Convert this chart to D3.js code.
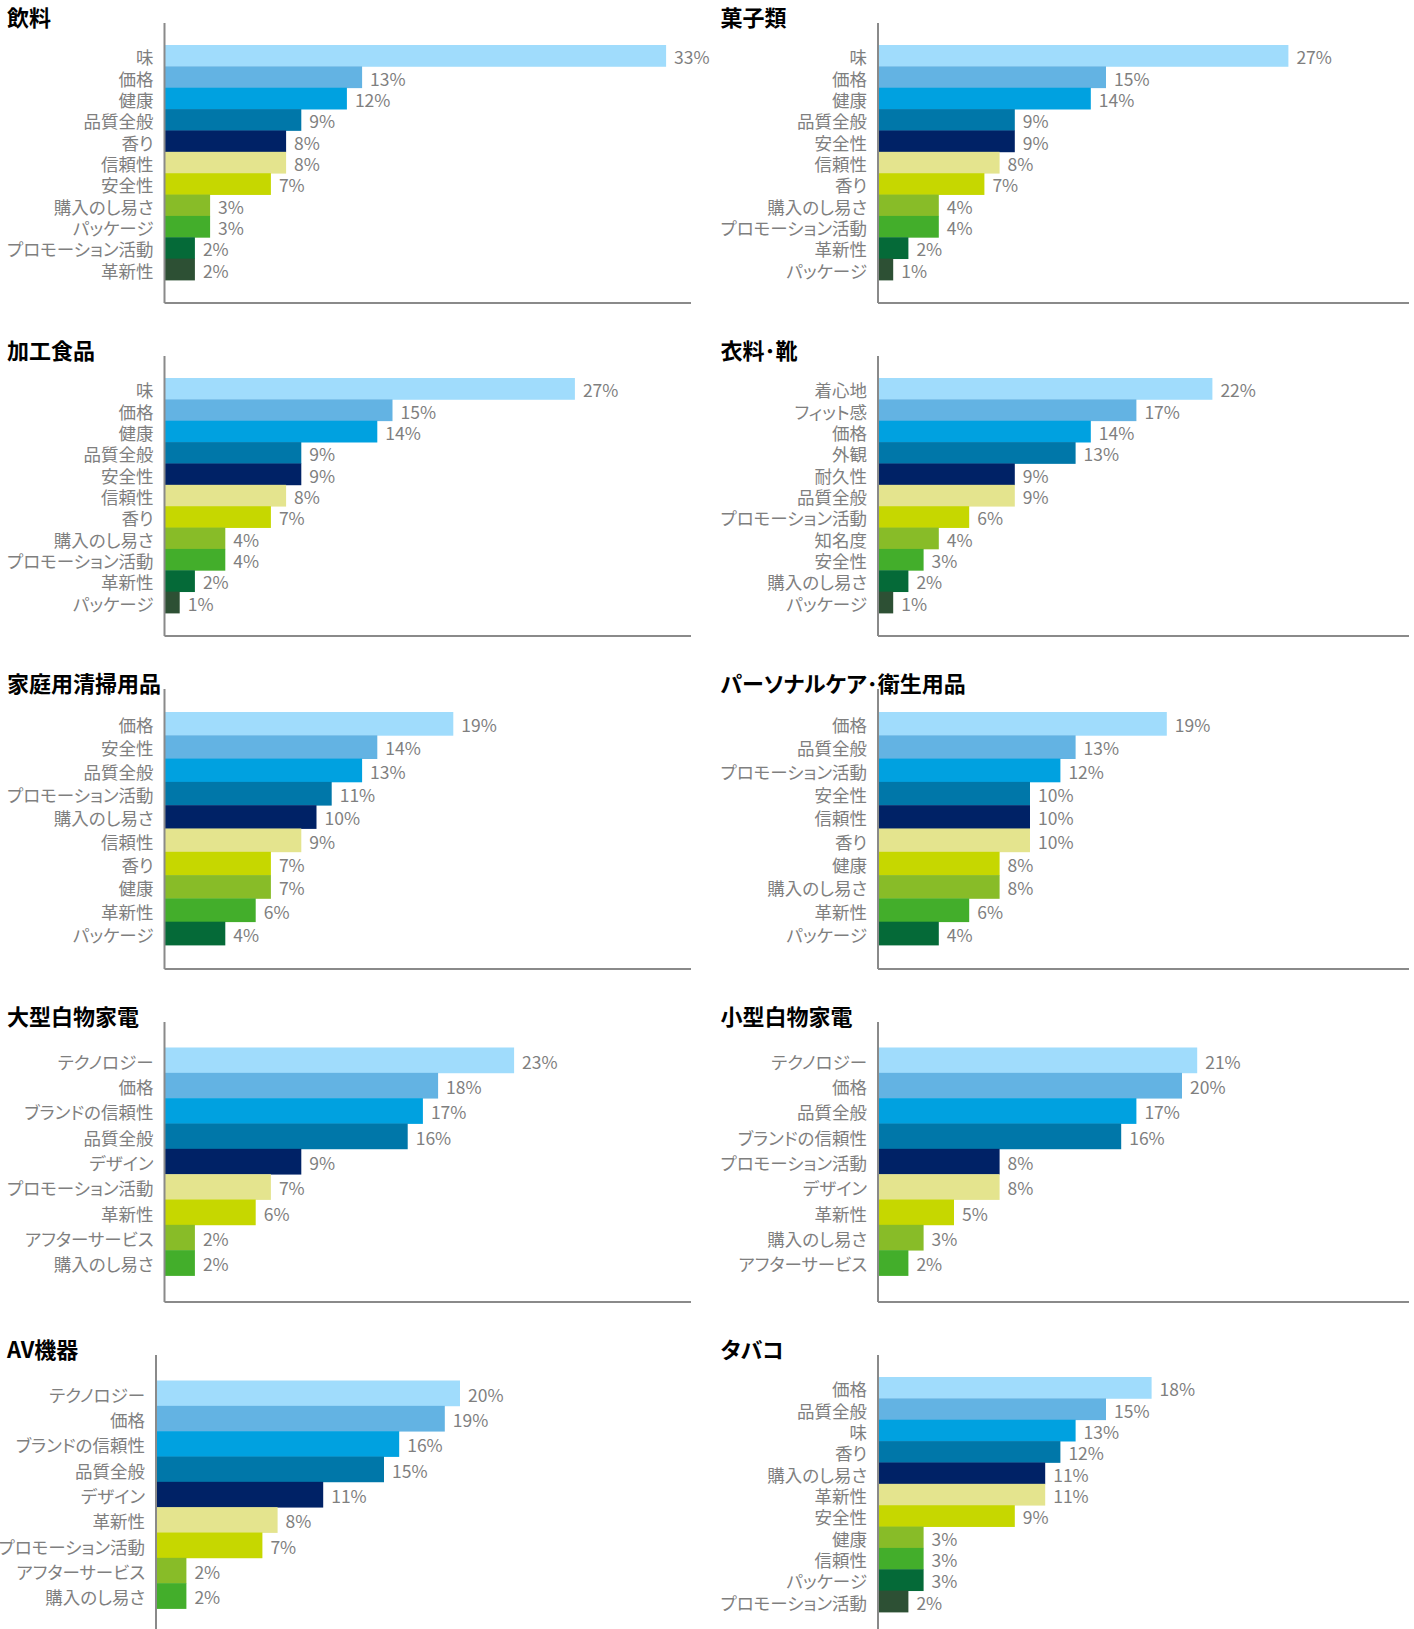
<!DOCTYPE html>
<html lang="ja">
<head>
<meta charset="utf-8">
<title>購買決定要因（カテゴリー別）</title>
<script src="https://cdn.jsdelivr.net/npm/d3@7"></script>
<style>
  html, body { margin: 0; padding: 0; background: #ffffff; }
  svg { display: block; }
  .cat, .val { font-family: "Noto Sans CJK JP", "Noto Sans", sans-serif; font-size: 17.5px; fill: #7f7f7f; font-feature-settings: "palt"; }
  .ttl { font-family: "Noto Sans CJK JP", sans-serif; font-size: 22px; font-weight: 700; fill: #000; font-feature-settings: "palt"; }
</style>
</head>
<body>
<script>
// Panel titles, in reading order (left column, right column, row by row)
const titles = ["飲料", "菓子類", "加工食品", "衣料･靴", "家庭用清掃用品",
  "パーソナルケア･衛生用品", "大型白物家電", "小型白物家電", "AV機器", "タバコ"];

// Share of respondents (%) naming each factor, per category
const beverageLabels = ["味", "価格", "健康", "品質全般", "香り", "信頼性", "安全性", "購入のし易さ", "パッケージ", "プロモーション活動", "革新性"];
const beverageValues = [33, 13, 12, 9, 8, 8, 7, 3, 3, 2, 2];

const snackLabels = ["味", "価格", "健康", "品質全般", "安全性", "信頼性", "香り", "購入のし易さ", "プロモーション活動", "革新性", "パッケージ"];
const snackValues = [27, 15, 14, 9, 9, 8, 7, 4, 4, 2, 1];

const processedLabels = ["味", "価格", "健康", "品質全般", "安全性", "信頼性", "香り", "購入のし易さ", "プロモーション活動", "革新性", "パッケージ"];
const processedValues = [27, 15, 14, 9, 9, 8, 7, 4, 4, 2, 1];

const apparelLabels = ["着心地", "フィット感", "価格", "外観", "耐久性", "品質全般", "プロモーション活動", "知名度", "安全性", "購入のし易さ", "パッケージ"];
const apparelValues = [22, 17, 14, 13, 9, 9, 6, 4, 3, 2, 1];

const cleaningLabels = ["価格", "安全性", "品質全般", "プロモーション活動", "購入のし易さ", "信頼性", "香り", "健康", "革新性", "パッケージ"];
const cleaningValues = [19, 14, 13, 11, 10, 9, 7, 7, 6, 4];

const personalCareLabels = ["価格", "品質全般", "プロモーション活動", "安全性", "信頼性", "香り", "健康", "購入のし易さ", "革新性", "パッケージ"];
const personalCareValues = [19, 13, 12, 10, 10, 10, 8, 8, 6, 4];

const largeApplianceLabels = ["テクノロジー", "価格", "ブランドの信頼性", "品質全般", "デザイン", "プロモーション活動", "革新性", "アフターサービス", "購入のし易さ"];
const largeApplianceValues = [23, 18, 17, 16, 9, 7, 6, 2, 2];

const smallApplianceLabels = ["テクノロジー", "価格", "品質全般", "ブランドの信頼性", "プロモーション活動", "デザイン", "革新性", "購入のし易さ", "アフターサービス"];
const smallApplianceValues = [21, 20, 17, 16, 8, 8, 5, 3, 2];

const avLabels = ["テクノロジー", "価格", "ブランドの信頼性", "品質全般", "デザイン", "革新性", "プロモーション活動", "アフターサービス", "購入のし易さ"];
const avValues = [20, 19, 16, 15, 11, 8, 7, 2, 2];

const tobaccoLabels = ["価格", "品質全般", "味", "香り", "購入のし易さ", "革新性", "安全性", "健康", "信頼性", "パッケージ", "プロモーション活動"];
const tobaccoValues = [18, 15, 13, 12, 11, 11, 9, 3, 3, 3, 2];

// Bar colours by rank
const palette = ["#a0dcfc", "#63b3e3", "#00a1e0", "#0077a9", "#002266",
  "#e4e48e", "#c6d700", "#88bc28", "#43ae2b", "#056a38", "#2d5034"];

const labelSets = [beverageLabels, snackLabels, processedLabels, apparelLabels, cleaningLabels,
  personalCareLabels, largeApplianceLabels, smallApplianceLabels, avLabels, tobaccoLabels];
const valueSets = [beverageValues, snackValues, processedValues, apparelValues, cleaningValues,
  personalCareValues, largeApplianceValues, smallApplianceValues, avValues, tobaccoValues];

const W = 1414, H = 1629;
const svg = d3.select("body").append("svg")
  .attr("width", W).attr("height", H)
  .attr("viewBox", `0 0 ${W} ${H}`);

// Layout of the 2 x 5 grid of small multiples
const colX = [0, 713.5];
const colEnd = [691, 1409];
const rowPitch = 333, rowOffset = -2;
const axisInset = 164.5;
const bandCenter = 164.5;
const blockHeight = { 9: 228, 10: 233, 11: 235 };

// One shared value scale so bar lengths are comparable between panels
const x = d3.scaleLinear().domain([0, 35]).range([0, 532]);

titles.forEach((title, i) => {
  const col = i % 2, row = Math.floor(i / 2);
  const labels = labelSets[i], values = valueSets[i];
  const top = rowOffset + row * rowPitch;
  const ax = colX[col] + (title === "AV機器" ? 156 : axisInset);
  const g = svg.append("g");

  const h = blockHeight[labels.length];
  const y = d3.scaleBand().domain(labels)
    .range([top + bandCenter - h / 2, top + bandCenter + h / 2]).padding(0);
  const data = labels.map((l, k) => ({ label: l, value: values[k], color: palette[k] }));

  g.append("text").attr("class", "ttl")
    .attr("x", colX[col] + 7).attr("y", top + 17.5)
    .attr("dominant-baseline", "central")
    .text(title);

  g.selectAll("rect").data(data).join("rect")
    .attr("x", ax)
    .attr("y", d => y(d.label))
    .attr("width", d => x(d.value))
    .attr("height", y.bandwidth() + 0.4)
    .attr("fill", d => d.color);

  g.selectAll(".cat").data(data).join("text").attr("class", "cat")
    .attr("x", ax - 11)
    .attr("y", d => y(d.label) + y.bandwidth() / 2 + 1)
    .attr("text-anchor", "end")
    .attr("dominant-baseline", "central")
    .text(d => d.label);

  g.selectAll(".val").data(data).join("text").attr("class", "val")
    .attr("x", d => ax + x(d.value) + 8)
    .attr("y", d => y(d.label) + y.bandwidth() / 2 + 1)
    .attr("dominant-baseline", "central")
    .text(d => d.value + "%");

  // Axis lines: vertical category axis and horizontal baseline
  const axisTop = top + 25, axisBottom = top + 305;
  g.append("line")
    .attr("x1", ax).attr("x2", ax)
    .attr("y1", axisTop).attr("y2", axisBottom)
    .attr("stroke", "#8a8a8a").attr("stroke-width", 2);
  g.append("line")
    .attr("x1", ax).attr("x2", colEnd[col])
    .attr("y1", axisBottom).attr("y2", axisBottom)
    .attr("stroke", "#8a8a8a").attr("stroke-width", 2);
});
</script>
</body>
</html>
